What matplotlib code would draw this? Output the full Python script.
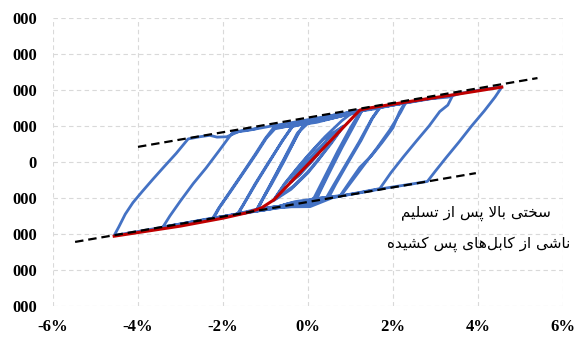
import matplotlib
matplotlib.use("Agg")
import matplotlib.pyplot as plt

# ---------------------------------------------------------------
# Cyclic test trace: drift (%) vs. force (thousands)
# ---------------------------------------------------------------
drift = [
    0.00, 0.20, 0.40, 0.22, 0.00, -0.20, -0.40, -0.22, 0.00,
    0.22, 0.42, 0.20, -0.02, -0.22, -0.42, -0.20, 0.02,
    0.40, 0.62, 0.82, 0.55, 0.25, 0.00, -0.35, -0.80,
    -0.55, -0.25, 0.00, 0.35, 0.84,
    0.55, 0.22, 0.00, -0.40, -0.82,
    -0.55, -0.22, 0.05, 0.40, 0.80, 1.00, 1.25,
    1.00, 0.70, 0.40, 0.15, 0.05, -0.40, -0.80, -1.20,
    -1.05, -0.80, -0.50, -0.20, 0.00, 0.50, 1.00, 1.27,
    1.05, 0.75, 0.45, 0.22, 0.10, -0.45, -0.85, -1.22,
    -1.08, -0.85, -0.55, -0.25, -0.05, 0.45, 0.95, 1.28,
    1.10, 0.80, 0.50, 0.25, 0.15, -0.40, -0.90, -1.22,
    -1.10, -0.85, -0.55, -0.25, -0.05, 0.50, 1.00, 1.40, 1.69,
    1.50, 1.20, 0.90, 0.60, 0.42, 0.00, -0.50, -1.00, -1.40, -1.65,
    -1.50, -1.20, -0.90, -0.60, -0.34, 0.00, 0.60, 1.20, 1.70,
    1.52, 1.25, 0.95, 0.65, 0.48, 0.00, -0.60, -1.10, -1.66,
    -1.52, -1.25, -0.95, -0.62, -0.38, -0.10, 0.50, 1.10, 1.60, 2.00, 2.28,
    2.15, 2.00, 1.75, 1.50, 1.22, 1.00, 0.75, 0.30, -0.30, -0.80, -1.40, -1.90, -2.24,
    -2.10, -1.85, -1.55, -1.25, -1.00, -0.81, -0.40, 0.20, 0.80, 1.40, 2.00, 2.30,
    2.18, 1.92, 1.63, 1.32, 1.02, 0.78, 0.20, -0.50, -1.20, -1.80, -2.22,
    -2.08, -1.82, -1.52, -1.22, -0.98, -0.78, -0.20, 0.50, 1.20, 2.00, 2.60, 3.00, 3.41,
    3.29, 3.10, 2.85, 2.55, 2.25, 1.95, 1.69, 1.20, 0.60, 0.05, -0.80, -1.60, -2.40, -3.00, -3.41,
    -3.25, -3.00, -2.70, -2.40, -2.10, -1.90, -1.77, -1.40, -0.90, -0.30, 0.40, 1.20, 2.00,
    2.80, 3.29, 3.60, 4.20, 4.56,
    4.40, 4.15, 3.85, 3.55, 3.25, 3.00, 2.81, 2.40, 1.80, 1.20, 0.40, -0.40, -1.20, -2.00,
    -2.80, -3.60, -4.20, -4.56,
    -4.45, -4.30, -4.12, -3.90, -3.65, -3.40, -3.10, -2.82, -2.55, -2.31, -2.14, -1.91,
    -1.60, -1.20,
]
force = [
    0.00, 0.27, 0.50, 0.20, -0.10, -0.35, -0.55, -0.26, 0.05,
    0.31, 0.52, 0.17, -0.12, -0.38, -0.57, -0.24, 0.06,
    0.55, 0.80, 0.98, 0.55, 0.08, -0.27, -0.68, -1.05,
    -0.62, -0.18, 0.17, 0.62, 1.00,
    0.52, 0.02, -0.30, -0.76, -1.08,
    -0.60, -0.12, 0.25, 0.70, 1.15, 1.33, 1.43,
    0.95, 0.30, -0.40, -0.98, -1.12, -1.24, -1.28, -1.36,
    -1.00, -0.45, 0.20, 0.85, 1.08, 1.20, 1.33, 1.44,
    1.00, 0.35, -0.35, -0.95, -1.07, -1.15, -1.30, -1.36,
    -1.05, -0.55, 0.12, 0.80, 1.05, 1.25, 1.36, 1.45,
    1.05, 0.40, -0.30, -0.90, -1.16, -1.22, -1.26, -1.35,
    -1.10, -0.60, 0.05, 0.75, 1.13, 1.22, 1.37, 1.46, 1.52,
    1.20, 0.55, -0.05, -0.65, -1.02, -1.18, -1.18, -1.33, -1.40, -1.45,
    -1.15, -0.55, 0.02, 0.60, 1.02, 1.10, 1.24, 1.42, 1.52,
    1.22, 0.60, 0.00, -0.62, -1.00, -1.08, -1.26, -1.34, -1.45,
    -1.18, -0.62, -0.05, 0.55, 0.98, 1.06, 1.20, 1.39, 1.48, 1.58, 1.64,
    1.38, 0.95, 0.55, 0.18, -0.15, -0.52, -0.95, -1.00, -1.10, -1.27, -1.39, -1.50, -1.56,
    -1.28, -0.85, -0.33, 0.20, 0.66, 0.95, 1.00, 1.10, 1.28, 1.46, 1.59, 1.65,
    1.38, 0.88, 0.40, -0.08, -0.55, -0.93, -1.02, -1.21, -1.31, -1.48, -1.56,
    -1.26, -0.82, -0.30, 0.22, 0.66, 0.92, 1.06, 1.28, 1.42, 1.58, 1.70, 1.78, 1.86,
    1.58, 1.40, 1.00, 0.58, 0.15, -0.30, -0.74, -0.85, -0.98, -1.24, -1.25, -1.43, -1.59, -1.72, -1.80,
    -1.50, -1.08, -0.60, -0.17, 0.30, 0.62, 0.82, 0.88, 0.99, 1.11, 1.26, 1.42, 1.58,
    1.75, 1.80, 1.91, 2.03, 2.08,
    1.80, 1.42, 1.00, 0.55, 0.12, -0.25, -0.54, -0.62, -0.73, -0.86, -1.02, -1.19, -1.35, -1.52,
    -1.68, -1.85, -1.97, -2.04,
    -1.80, -1.45, -1.13, -0.82, -0.48, -0.15, 0.24, 0.64, 0.70, 0.74, 0.69, 0.70,
    0.86, 0.93,
]

# Backbone (envelope of peak points)
backbone_drift = [-4.56, -3.00, -2.00, -1.40, -1.10, -0.80, 1.22, 1.45, 2.50, 3.50, 4.56]
backbone_force = [-2.06, -1.78, -1.56, -1.40, -1.28, -1.05, 1.44, 1.50, 1.70, 1.88, 2.08]

# Post-yield stiffness guide lines
upper_guide_drift = [-4.00, 5.40]
upper_guide_force = [0.42, 2.33]
lower_guide_drift = [-5.48, 3.95]
lower_guide_force = [-2.22, -0.31]

x_ticks = [-6, -4, -2, 0, 2, 4, 6]
x_tick_labels = ["-6%", "-4%", "-2%", "0%", "2%", "4%", "6%"]
y_ticks = [-4, -3, -2, -1, 0, 1, 2, 3, 4]
y_tick_labels = ["000", "000", "000", "000", "0", "000", "000", "000", "000"]

note_line1 = "سختی بالا پس از تسلیم"
note_line2 = "ناشی از کابل\u200cهای پس کشیده"


# ---------------------------------------------------------------
# Minimal Persian shaping (contextual forms + right-to-left order)
# ---------------------------------------------------------------
FORMS = {
    "ا": ("\uFE8D", "\uFE8E", None, None),
    "ب": ("\uFE8F", "\uFE90", "\uFE91", "\uFE92"),
    "ت": ("\uFE95", "\uFE96", "\uFE97", "\uFE98"),
    "خ": ("\uFEA5", "\uFEA6", "\uFEA7", "\uFEA8"),
    "د": ("\uFEA9", "\uFEAA", None, None),
    "ز": ("\uFEAF", "\uFEB0", None, None),
    "س": ("\uFEB1", "\uFEB2", "\uFEB3", "\uFEB4"),
    "ش": ("\uFEB5", "\uFEB6", "\uFEB7", "\uFEB8"),
    "ل": ("\uFEDD", "\uFEDE", "\uFEDF", "\uFEE0"),
    "م": ("\uFEE1", "\uFEE2", "\uFEE3", "\uFEE4"),
    "ن": ("\uFEE5", "\uFEE6", "\uFEE7", "\uFEE8"),
    "ه": ("\uFEE9", "\uFEEA", "\uFEEB", "\uFEEC"),
    "ی": ("\uFBFC", "\uFBFD", "\uFBFE", "\uFBFF"),
    "پ": ("\uFB56", "\uFB57", "\uFB58", "\uFB59"),
    "ک": ("\uFB8E", "\uFB8F", "\uFB90", "\uFB91"),
    "لا": ("\uFEFB", "\uFEFC", None, None),
}


def shape_rtl(text):
    units = []
    i = 0
    while i < len(text):
        if text[i] == "ل" and i + 1 < len(text) and text[i + 1] == "ا":
            units.append("لا")
            i += 2
        else:
            units.append(text[i])
            i += 1
    out = []
    for k, u in enumerate(units):
        if u not in FORMS:
            if u != "\u200c":
                out.append(u)
            continue
        prev = units[k - 1] if k > 0 else None
        nxt = units[k + 1] if k + 1 < len(units) else None
        joins_prev = prev in FORMS and FORMS[prev][2] is not None
        joins_next = FORMS[u][2] is not None and nxt in FORMS
        iso, fin, ini, med = FORMS[u]
        if joins_prev and joins_next:
            out.append(med)
        elif joins_prev:
            out.append(fin)
        elif joins_next:
            out.append(ini)
        else:
            out.append(iso)
    return "".join(reversed(out))


# ---------------------------------------------------------------
fig = plt.figure(figsize=(5.76, 3.45), dpi=100)
ax = fig.add_axes([0.092, 0.113, 0.8854, 0.835])

ax.plot(drift, force, color="#4472C4", lw=2.0, solid_joinstyle="round",
        solid_capstyle="round", zorder=2)
ax.plot(backbone_drift, backbone_force, color="#C00000", lw=2.2, zorder=3)
for gx, gy in ((upper_guide_drift, upper_guide_force),
               (lower_guide_drift, lower_guide_force)):
    ax.plot(gx, gy, color="black", lw=1.6, dashes=(3.8, 2.2), zorder=4)

ax.set_xlim(-6, 6)
ax.set_ylim(-4, 4)
ax.set_xticks(x_ticks)
ax.set_xticklabels(x_tick_labels)
ax.set_yticks(y_ticks)
ax.set_yticklabels(y_tick_labels)

for lab in ax.get_xticklabels() + ax.get_yticklabels():
    lab.set_fontfamily("Liberation Serif")
    lab.set_fontweight("bold")
    lab.set_fontsize(12)

ax.tick_params(axis="both", length=0)
ax.tick_params(axis="y", pad=11.5)
ax.tick_params(axis="x", pad=9)

for s in ax.spines.values():
    s.set_visible(False)
ax.grid(True, color="#D9D9D9", lw=0.8, dashes=(4, 3))
ax.set_axisbelow(True)

ax.text(3.95, -1.42, shape_rtl(note_line1), ha="center", va="center",
        fontsize=11, family="DejaVu Sans", zorder=5)
ax.text(4.02, -2.28, shape_rtl(note_line2), ha="center", va="center",
        fontsize=11, family="DejaVu Sans", zorder=5)

fig.savefig("out.png", dpi=100)
